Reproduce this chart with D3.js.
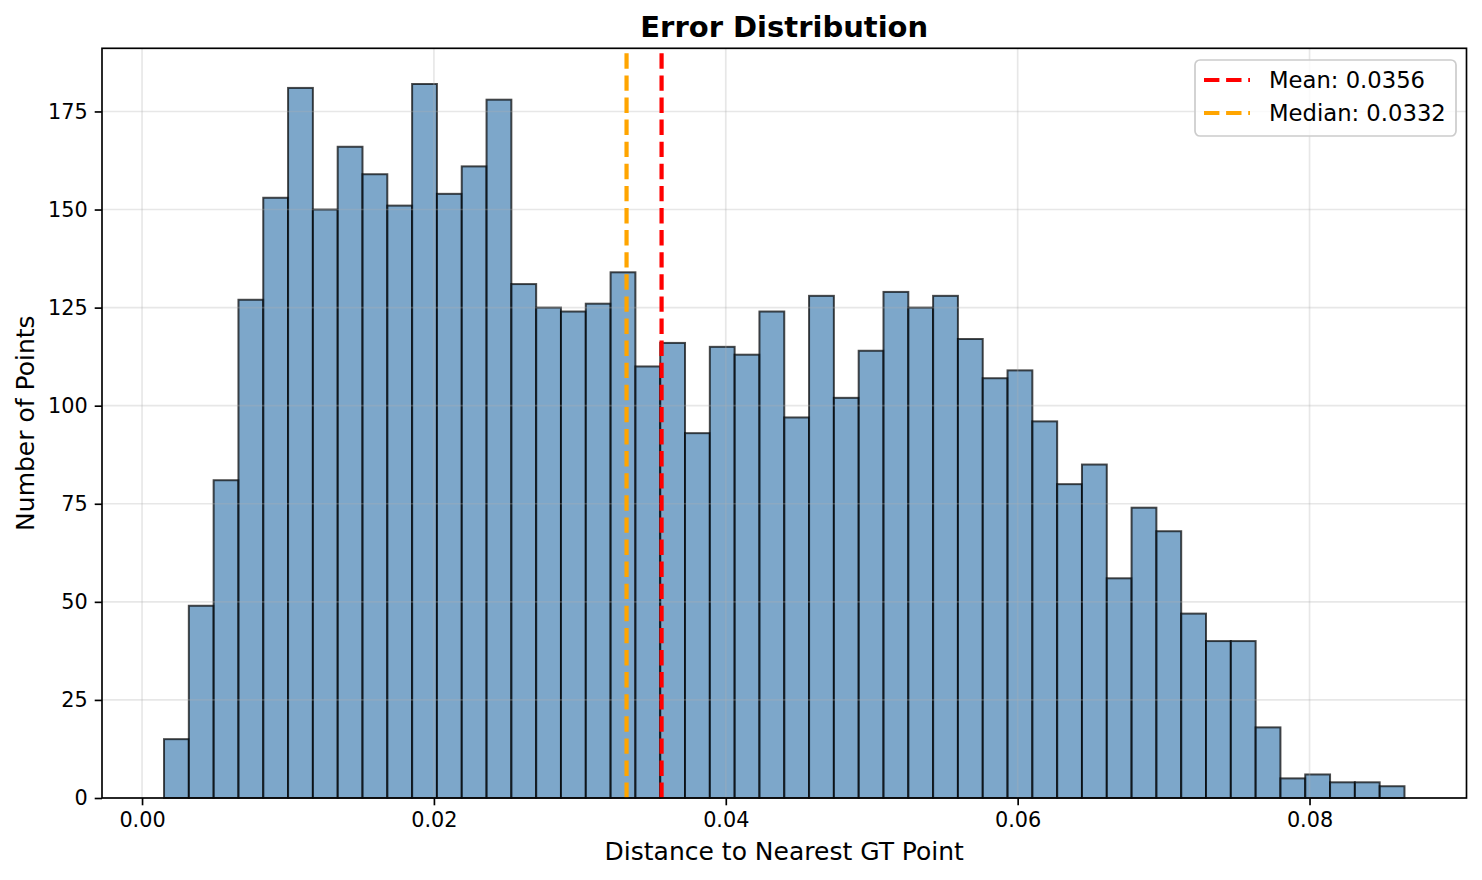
<!DOCTYPE html>
<html>
<head>
<meta charset="utf-8">
<script src="https://cdn.jsdelivr.net/npm/d3@7"></script>
<style>
  body { margin: 0; background: #fff; }
  svg { display: block; font-family: "DejaVu Sans", sans-serif; }
</style>
</head>
<body>
<script>
// histogram counts, 50 bins
var counts = [15, 49, 81, 127, 153, 181, 150, 166, 159, 151,
              182, 154, 161, 178, 131, 125, 124, 126, 134, 110,
              116, 93, 115, 113, 124, 97, 128, 102, 114, 129,
              125, 128, 117, 107, 109, 96, 80, 85, 56, 74,
              68, 47, 40, 40, 18, 5, 6, 4, 4, 3];
var binMin = 0.001506;
var binMax = 0.086506;
var xTicks = [0.00, 0.02, 0.04, 0.06, 0.08];
var yTicks = [0, 25, 50, 75, 100, 125, 150, 175];
var refLines = [
  { label: 'Mean: 0.0356', value: 0.0356, color: '#ff0000' },
  { label: 'Median: 0.0332', value: 0.0332, color: '#ffa500' }
];

var width = 1482, height = 880;
var plotLeft = 102, plotRight = 1466.5, plotTop = 48.3, plotBottom = 798;

var svg = d3.select('body').append('svg').attr('width', width).attr('height', height);

var binW = (binMax - binMin) / counts.length;
var bins = counts.map(function (c, i) {
  return { x0: binMin + i * binW, x1: binMin + (i + 1) * binW, n: c };
});

var pad = 0.05 * (binMax - binMin);
var x = d3.scaleLinear().domain([binMin - pad, binMax + pad]).range([plotLeft, plotRight]);
var y = d3.scaleLinear().domain([0, d3.max(counts) * 1.05]).range([plotBottom, plotTop]);

// bars
svg.append('g').selectAll('rect')
  .data(bins)
  .enter()
  .append('rect')
  .attr('x', function (d) { return x(d.x0); })
  .attr('y', function (d) { return y(d.n); })
  .attr('width', function (d) { return x(d.x1) - x(d.x0); })
  .attr('height', function (d) { return y(0) - y(d.n); })
  .attr('fill', 'steelblue')
  .attr('fill-opacity', 0.7)
  .attr('stroke', '#000')
  .attr('stroke-opacity', 0.7)
  .attr('stroke-width', 2);

// grid (above patches like matplotlib)
var grid = svg.append('g').attr('stroke', '#b0b0b0').attr('stroke-opacity', 0.3).attr('stroke-width', 1.67);
grid.selectAll('.gx').data(xTicks).enter().append('line')
  .attr('x1', function (d) { return x(d); }).attr('x2', function (d) { return x(d); })
  .attr('y1', plotTop).attr('y2', plotBottom);
grid.selectAll('.gy').data(yTicks).enter().append('line')
  .attr('y1', function (d) { return y(d); }).attr('y2', function (d) { return y(d); })
  .attr('x1', plotLeft).attr('x2', plotRight);

// mean / median lines
svg.append('g').selectAll('line')
  .data(refLines)
  .enter()
  .append('line')
  .attr('x1', function (d) { return x(d.value); })
  .attr('x2', function (d) { return x(d.value); })
  .attr('y1', plotBottom).attr('y2', plotTop)
  .attr('stroke', function (d) { return d.color; })
  .attr('stroke-width', 4.2)
  .attr('stroke-dasharray', '15.4,6.7');

// axes
var xAxis = svg.append('g')
  .attr('transform', 'translate(0,' + plotBottom + ')')
  .call(d3.axisBottom(x).tickValues(xTicks).tickFormat(d3.format('.2f')).tickSizeOuter(0).tickSize(7.3).tickPadding(7));
var yAxis = svg.append('g')
  .attr('transform', 'translate(' + plotLeft + ',0)')
  .call(d3.axisLeft(y).tickValues(yTicks).tickSizeOuter(0).tickSize(7.3).tickPadding(7));

[xAxis, yAxis].forEach(function (a) {
  a.select('.domain').remove();
  a.selectAll('line').attr('stroke', '#000').attr('stroke-width', 1.67);
  a.selectAll('text').attr('font-size', '20.8px').attr('fill', '#000')
    .attr('font-family', '"DejaVu Sans", sans-serif');
});

// spines
svg.append('rect')
  .attr('x', plotLeft).attr('y', plotTop)
  .attr('width', plotRight - plotLeft).attr('height', plotBottom - plotTop)
  .attr('fill', 'none').attr('stroke', '#000').attr('stroke-width', 1.67);

// labels
svg.append('text')
  .attr('x', (plotLeft + plotRight) / 2).attr('y', 37)
  .attr('text-anchor', 'middle').attr('font-size', '29px').attr('font-weight', 'bold')
  .text('Error Distribution');
svg.append('text')
  .attr('x', (plotLeft + plotRight) / 2).attr('y', 860)
  .attr('text-anchor', 'middle').attr('font-size', '25px')
  .text('Distance to Nearest GT Point');
svg.append('text')
  .attr('transform', 'translate(34,' + (plotTop + plotBottom) / 2 + ') rotate(-90)')
  .attr('text-anchor', 'middle').attr('font-size', '25px')
  .text('Number of Points');

// legend
var lg = svg.append('g');
lg.append('rect')
  .attr('x', 1195).attr('y', 60).attr('width', 261).attr('height', 76)
  .attr('rx', 5)
  .attr('fill', '#fff').attr('fill-opacity', 0.8)
  .attr('stroke', '#cccccc').attr('stroke-width', 1.7);
var items = lg.selectAll('.item').data(refLines).enter().append('g')
  .attr('transform', function (d, i) { return 'translate(0,' + (80 + i * 33) + ')'; });
items.append('line')
  .attr('x1', 1204).attr('x2', 1250).attr('y1', 0).attr('y2', 0)
  .attr('stroke', function (d) { return d.color; })
  .attr('stroke-width', 4.2)
  .attr('stroke-dasharray', '15.4,6.7');
items.append('text')
  .attr('x', 1269).attr('y', 8)
  .attr('font-size', '22.7px')
  .text(function (d) { return d.label; });
</script>
</body>
</html>
